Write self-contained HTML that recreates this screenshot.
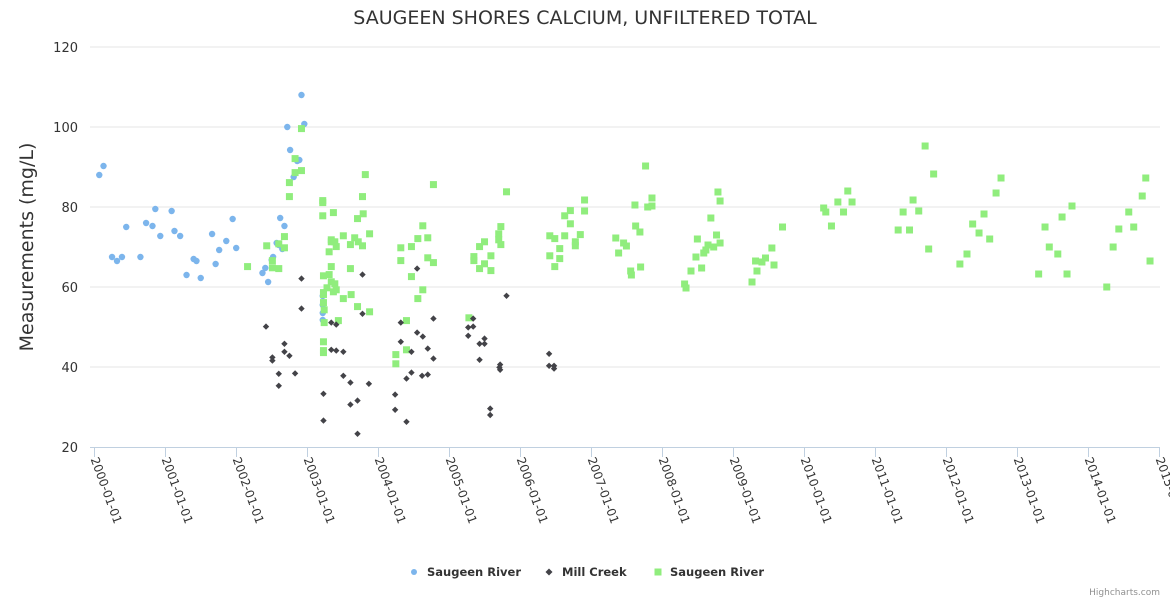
<!DOCTYPE html>
<html><head><meta charset="utf-8"><style>
html,body{margin:0;padding:0;background:#fff;}
svg{display:block;font-family:"DejaVu Sans","Liberation Sans",Arial,sans-serif;}
</style></head><body>
<svg id="chart" width="1170" height="600">
<text x="585" y="24" text-anchor="middle" font-size="19" fill="#333">SAUGEEN SHORES CALCIUM, UNFILTERED TOTAL</text>
<text transform="translate(33,247) rotate(-90)" text-anchor="middle" font-size="19" fill="#333">Measurements (mg/L)</text>
<g id="grid"></g><g id="xaxis"></g><g id="marks"></g>
<g>
<g><circle cx="414" cy="572" r="3" fill="#7cb5ec"/><text x="427" y="576" font-size="11.5" font-weight="bold" fill="#333">Saugeen River</text></g>
<g><path d="M549 568.5 L552.5 572 L549 575.5 L545.5 572 Z" fill="#434348"/><text x="562" y="576" font-size="11.5" font-weight="bold" fill="#333">Mill Creek</text></g>
<g><rect x="654.5" y="568.5" width="7" height="7" fill="#90ed7d"/><text x="670" y="576" font-size="11.5" font-weight="bold" fill="#333">Saugeen River</text></g>
</g>
<text x="1160" y="595" text-anchor="end" font-size="9" fill="#909090">Highcharts.com</text>
</svg>
<script>
const yTicks=[20,40,60,80,100,120];
const xTickYears=[2000,2001,2002,2003,2004,2005,2006,2007,2008,2009,2010,2011,2012,2013,2014,2015];
const blueX=[2000.07,2000.13,2000.25,2000.32,2000.39,2000.45,2000.65,2000.73,2000.82,2000.86,2000.93,2001.09,2001.13,2001.21,2001.30,2001.40,2001.44,2001.50,2001.66,2001.71,2001.76,2001.86,2001.95,2002.00,2002.37,2002.41,2002.45,2002.50,2002.52,2002.57,2002.60,2002.62,2002.65,2002.68,2002.72,2002.76,2002.81,2002.86,2002.89,2002.92,2002.96,2003.22,2003.22,2003.22,2003.22];
const blueY=[88,90.25,67.5,66.5,67.5,75,67.5,76,75.25,79.5,72.75,79,74,72.75,63,67,66.5,62.25,73.25,65.75,69.25,71.5,77,69.75,63.5,64.75,61.25,66.75,67.5,71,70.5,77.25,69.5,75.25,100,94.25,87.5,91.5,91.75,108,100.75,57.75,55.5,53.5,51.75];
const millX=[2002.42,2002.51,2002.51,2002.60,2002.60,2002.68,2002.68,2002.75,2002.83,2002.92,2002.92,2003.23,2003.23,2003.34,2003.41,2003.34,2003.41,2003.51,2003.51,2003.61,2003.61,2003.71,2003.71,2003.78,2003.78,2003.87,2004.24,2004.24,2004.32,2004.32,2004.40,2004.40,2004.47,2004.47,2004.55,2004.55,2004.63,2004.62,2004.70,2004.70,2004.78,2004.78,2005.27,2005.27,2005.34,2005.34,2005.43,2005.43,2005.50,2005.50,2005.58,2005.58,2005.71,2005.72,2005.72,2005.81,2006.41,2006.41,2006.48,2006.48];
const millY=[50.1,42.4,41.6,38.3,35.3,45.8,43.8,42.8,38.4,62.1,54.6,33.3,26.6,51.1,50.6,44.3,44.1,43.8,37.8,36.1,30.6,31.6,23.3,63.1,53.3,35.8,33.1,29.3,51.1,46.3,37.1,26.3,43.8,38.6,64.6,48.6,47.6,37.8,44.6,38.1,52.1,42.1,49.9,47.8,52.1,50.1,45.8,41.8,47.1,45.8,29.6,28,39.9,40.6,39.3,57.8,43.3,40.3,40.3,39.6];
const greenX=[2002.16,2002.43,2002.51,2002.51,2002.60,2002.60,2002.68,2002.68,2002.75,2002.75,2002.83,2002.83,2002.92,2002.92,2003.22,2003.22,2003.22,2003.37,2003.34,2003.34,2003.39,2003.41,2003.31,2003.34,2003.23,2003.31,2003.34,2003.39,2003.41,2003.28,2003.37,2003.23,2003.23,2003.23,2003.24,2003.24,2003.23,2003.23,2003.23,2003.44,2003.51,2003.51,2003.61,2003.61,2003.62,2003.67,2003.71,2003.71,2003.72,2003.78,2003.78,2003.79,2003.82,2003.88,2003.88,2004.25,2004.25,2004.32,2004.32,2004.40,2004.40,2004.47,2004.47,2004.56,2004.56,2004.63,2004.63,2004.70,2004.70,2004.78,2004.78,2005.28,2005.35,2005.35,2005.43,2005.43,2005.50,2005.50,2005.59,2005.59,2005.70,2005.70,2005.73,2005.73,2005.81,2006.42,2006.42,2006.49,2006.49,2006.56,2006.56,2006.63,2006.63,2006.71,2006.71,2006.78,2006.78,2006.85,2006.91,2006.91,
2007.35,2007.39,2007.46,2007.50,2007.56,2007.57,2007.62,2007.63,2007.69,2007.70,2007.77,2007.80,2007.86,2007.86,2008.32,2008.34,2008.41,2008.48,2008.50,2008.56,2008.59,2008.62,2008.65,2008.69,2008.73,2008.77,2008.79,2008.82,2008.82,2009.27,2009.32,2009.34,2009.41,2009.46,2009.55,2009.58,2009.70,2010.28,2010.31,2010.39,2010.48,2010.56,2010.62,2010.68,2011.33,2011.40,2011.49,2011.54,2011.62,2011.71,2011.76,2011.83,2012.20,2012.30,2012.38,2012.47,2012.54,2012.62,2012.71,2012.78,2013.31,2013.40,2013.46,2013.58,2013.64,2013.71,2013.78,2014.27,2014.36,2014.44,2014.58,2014.65,2014.77,2014.82,2014.88];
const greenY=[65.1,70.3,66.6,64.8,70.8,64.6,72.6,69.8,86.1,82.6,92.1,88.6,99.6,89.1,81.6,81.1,77.8,78.6,71.8,71.3,71.3,70.1,68.8,65.1,62.8,63.1,61.3,60.8,59.3,59.8,58.8,58.6,58.1,56.1,54.3,51.1,46.3,44.1,43.6,51.6,57.1,72.8,70.6,64.6,58.1,72.3,77.1,55.1,71.3,70.3,82.6,78.3,88.1,73.3,53.8,43.1,40.8,69.8,66.6,51.6,44.3,70.1,62.6,72.1,57.1,75.3,59.3,72.3,67.3,66.1,85.6,52.3,67.6,66.6,70.1,64.6,71.3,65.8,67.8,64.1,73.3,71.8,75.1,70.6,83.8,72.8,67.8,72.1,65.1,69.6,67.1,77.8,72.8,79.1,75.8,71.3,70.3,73.1,81.75,79,
72.25,68.5,71,70.25,64,63,80.5,75.25,73.75,65,90.25,80,82.25,80.25,60.75,59.75,64,67.5,72,64.75,68.5,69.25,70.5,77.25,70,73,83.75,81.5,71,61.25,66.5,64,66.25,67.25,69.75,65.5,75,79.75,78.75,75.25,81.25,78.75,84,81.25,74.25,78.75,74.25,81.75,79,95.25,69.5,88.25,65.75,68.25,75.75,73.5,78.25,72,83.5,87.25,63.25,75,70,68.25,77.5,63.25,80.25,60,70,74.5,78.75,75,82.75,87.25,66.5];

const NS='http://www.w3.org/2000/svg';
const X0=90,X1=1160,Y0=447,Y1=47;
function xS(yr){return 94.3+(yr-2000)*70.95;}
function yS(v){return Y0-(v-20)*(Y0-Y1)/100;}
function mk(tag,attrs,parent){const e=document.createElementNS(NS,tag);for(const k in attrs)e.setAttribute(k,attrs[k]);parent.appendChild(e);return e;}
const grid=document.getElementById('grid'),xa=document.getElementById('xaxis'),marks=document.getElementById('marks');
yTicks.forEach(t=>{
  if(t>20){const l=mk('line',{x1:X0,x2:X1,y1:yS(t),y2:yS(t),stroke:'#e6e6e6','stroke-width':1},grid);
  
  }
  const tx=mk('text',{x:78,y:yS(t)+5,'text-anchor':'end','font-size':13,fill:'#333'},grid);
  tx.textContent=t;
  
  
});
const axl=mk('line',{x1:X0,x2:X1,y1:Y0+0.5,y2:Y0+0.5,stroke:'#C0D0E0','stroke-width':1},xa);


xTickYears.forEach(y=>{
  const x=Math.round(xS(y))+0.5;
  const tk=mk('line',{x1:x,x2:x,y1:Y0,y2:Y0+10,stroke:'#C0D0E0','stroke-width':1},xa);
  
  
  const tx=mk('text',{transform:'translate('+(x-4)+','+(Y0+12)+') rotate(70)','font-size':12,fill:'#333'},xa);
  tx.textContent=y+'-01-01';
  
  
});
blueX.forEach((x,i)=>{
  const c=mk('circle',{cx:xS(x),cy:yS(blueY[i]),r:3.2,fill:'#7cb5ec'},marks);
  
  
});
greenX.forEach((x,i)=>{
  const cx=xS(x),cy=yS(greenY[i]);
  const r=mk('rect',{x:cx-3.5,y:cy-3.5,width:7,height:7,fill:'#90ed7d'},marks);
  
  
});
millX.forEach((x,i)=>{
  const cx=xS(x),cy=yS(millY[i]);
  const p=mk('path',{d:'M'+cx+' '+(cy-3.2)+' L'+(cx+3.2)+' '+cy+' L'+cx+' '+(cy+3.2)+' L'+(cx-3.2)+' '+cy+' Z',fill:'#434348'},marks);
  
  
});
</script>
</body></html>
